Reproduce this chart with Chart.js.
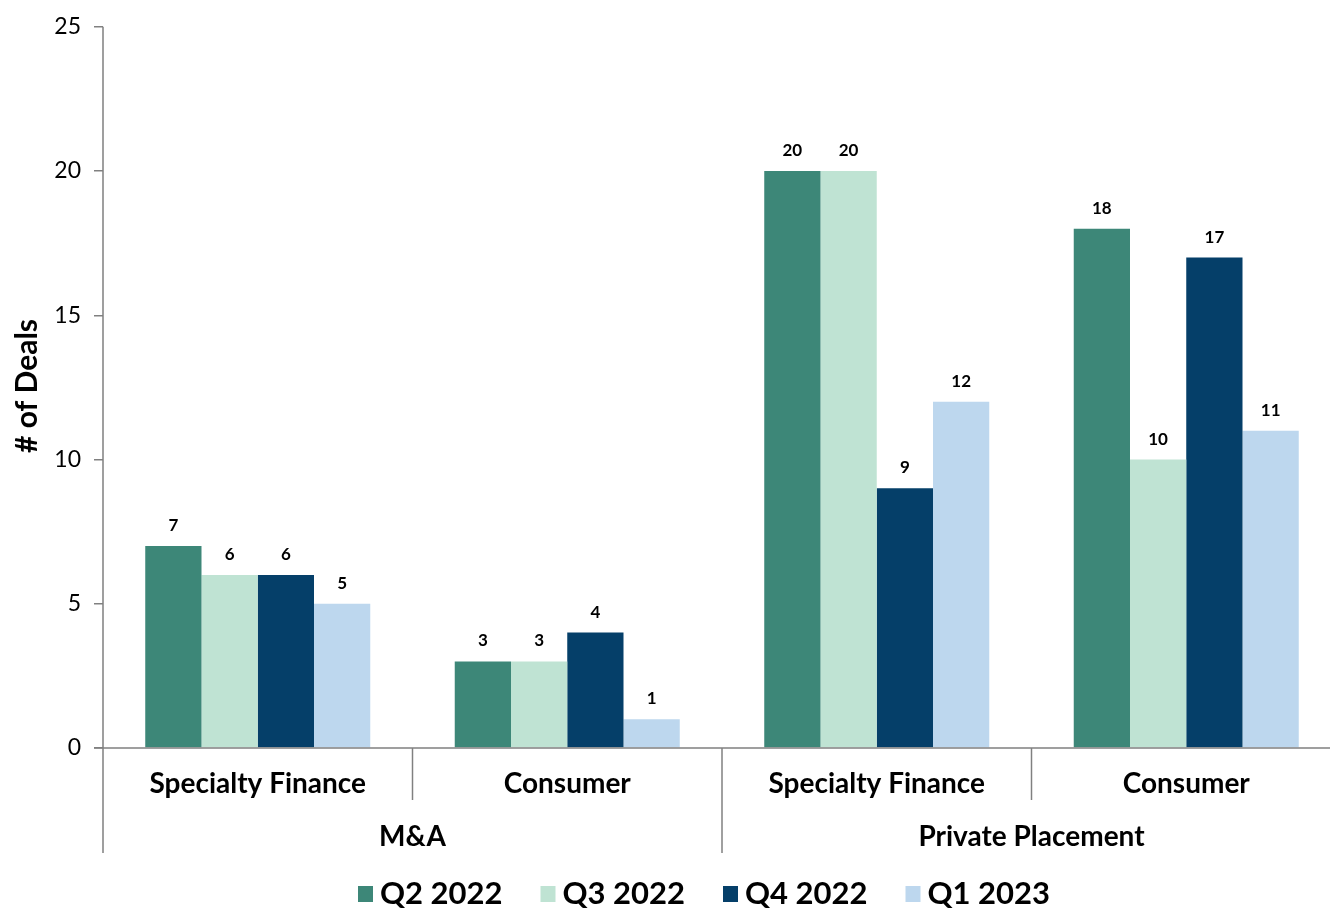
<!DOCTYPE html>
<html>
<head>
<meta charset="utf-8">
<script src="https://cdn.jsdelivr.net/npm/chart.js@4/dist/chart.umd.min.js"></script>
<style>
  html, body { margin: 0; padding: 0; background: #fff; overflow: hidden; }
  #wrap { width: 1341px; height: 909px; position: relative; }
</style>
</head>
<body>
<div id="wrap"><canvas id="myChart"></canvas></div>
<script>
// categories, two levels
const categories = ['Specialty Finance', 'Consumer', 'Specialty Finance', 'Consumer'];
const groups = ['M&A', 'Private Placement'];
const groupSize = 2;

// series
const seriesNames = ['Q2 2022', 'Q3 2022', 'Q4 2022', 'Q1 2023'];
const q2_2022 = [7, 3, 20, 18];
const q3_2022 = [6, 3, 20, 10];
const q4_2022 = [6, 4, 9, 17];
const q1_2023 = [5, 1, 12, 11];
const seriesColors = ['#3d8778', '#bfe3d3', '#053f69', '#bdd7ee'];

const yTicks = [0, 5, 10, 15, 20, 25];

const FONT = 'Lato, "Noto Sans", sans-serif';
const LINE = '#808080';

const extras = {
    id: 'extras',
    afterDatasetsDraw(chart) {
        const ctx = chart.ctx;
        const x = chart.scales.x;
        const area = chart.chartArea;
        ctx.save();

        // value labels above bars
        ctx.fillStyle = '#000';
        ctx.font = 'bold 17px ' + FONT;
        ctx.textAlign = 'center';
        ctx.textBaseline = 'bottom';
        chart.data.datasets.forEach((ds, i) => {
            chart.getDatasetMeta(i).data.forEach((bar, j) => {
                ctx.fillText(String(ds.data[j]), bar.x, bar.y - 12);
            });
        });

        // axis lines
        ctx.strokeStyle = LINE;
        ctx.lineWidth = 1.5;
        ctx.beginPath();
        ctx.moveTo(area.left - 9, area.bottom);
        ctx.lineTo(area.right, area.bottom);
        ctx.moveTo(area.left, area.top);
        ctx.lineTo(area.left, 853);
        ctx.stroke();

        // separators between categories / groups
        const step = x.getPixelForValue(1) - x.getPixelForValue(0);
        for (let i = 1; i < categories.length; i++) {
            const bx = x.getPixelForValue(i) - step / 2;
            const isGroup = i % groupSize === 0;
            ctx.beginPath();
            ctx.moveTo(bx, area.bottom);
            ctx.lineTo(bx, isGroup ? 853 : 800);
            ctx.stroke();
        }

        // category labels
        ctx.fillStyle = '#000';
        ctx.textBaseline = 'middle';
        ctx.font = 'bold 28px ' + FONT;
        categories.forEach((c, i) => {
            ctx.fillText(c, x.getPixelForValue(i), 784);
        });

        // group labels
        groups.forEach((g, gi) => {
            const a = x.getPixelForValue(gi * groupSize);
            const b = x.getPixelForValue(gi * groupSize + groupSize - 1);
            ctx.fillText(g, (a + b) / 2, 837);
        });

        // y title
        ctx.save();
        ctx.translate(27, 386);
        ctx.rotate(-Math.PI / 2);
        ctx.font = 'bold 30px ' + FONT;
        ctx.fillText('# of Deals', 0, 0);
        ctx.restore();

        // legend
        ctx.font = 'bold 31px ' + FONT;
        ctx.textAlign = 'left';
        ctx.textBaseline = 'middle';
        let lx = 358;
        seriesNames.forEach((name, i) => {
            ctx.fillStyle = seriesColors[i];
            ctx.fillRect(lx, 886, 15, 16);
            ctx.fillStyle = '#000';
            ctx.fillText(name, lx + 22, 894);
            lx += 182.5;
        });

        ctx.restore();
    }
};

const ctx = document.getElementById('myChart');
const chart = new Chart(ctx, {
    type: 'bar',
    data: {
        labels: categories,
        datasets: [
            { label: seriesNames[0], data: q2_2022, backgroundColor: seriesColors[0] },
            { label: seriesNames[1], data: q3_2022, backgroundColor: seriesColors[1] },
            { label: seriesNames[2], data: q4_2022, backgroundColor: seriesColors[2] },
            { label: seriesNames[3], data: q1_2023, backgroundColor: seriesColors[3] }
        ]
    },
    options: {
        responsive: true,
        maintainAspectRatio: false,
        animation: false,
        devicePixelRatio: 1,
        layout: { autoPadding: false, padding: { top: 19, right: 0, left: 0, bottom: 0 } },
        datasets: { bar: { categoryPercentage: 0.727, barPercentage: 1 } },
        plugins: {
            legend: { display: false },
            tooltip: { enabled: false }
        },
        scales: {
            x: {
                ticks: { display: false },
                grid: { display: false },
                border: { display: false },
                afterFit(scale) { scale.height = 161; }
            },
            y: {
                min: 0,
                max: 25,
                afterBuildTicks(scale) { scale.ticks = yTicks.map(v => ({ value: v })); },
                ticks: {
                    color: '#000',
                    font: { family: FONT, size: 23 },
                    padding: 13
                },
                grid: { drawOnChartArea: false, drawTicks: true, tickLength: 9, color: LINE, lineWidth: 1.5 },
                border: { display: false },
                afterFit(scale) { scale.width = 103; }
            }
        }
    },
    plugins: [extras]
});
</script>
</body>
</html>
